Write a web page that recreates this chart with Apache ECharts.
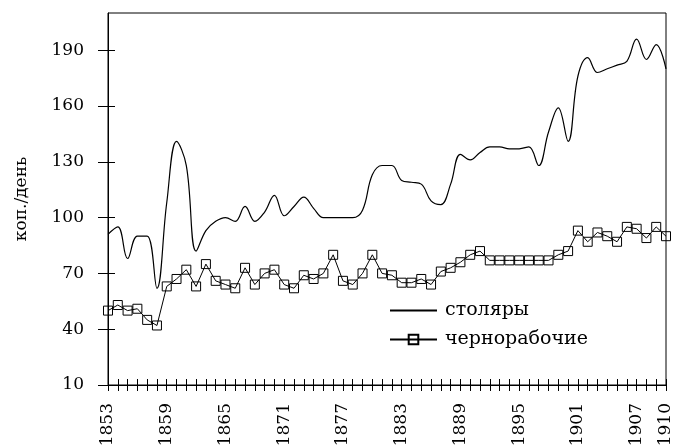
<!DOCTYPE html>
<html>
<head>
<meta charset="utf-8">
<script src="https://cdn.jsdelivr.net/npm/echarts@6/dist/echarts.min.js"></script>
<style>
  html, body { margin: 0; padding: 0; background: #fff; }
  #chart { width: 679px; height: 446px; }
</style>
</head>
<body>
<div id="chart"></div>
<script>
// годы 1853..1910
const years = [
  1853, 1854, 1855, 1856, 1857, 1858, 1859, 1860, 1861, 1862,
  1863, 1864, 1865, 1866, 1867, 1868, 1869, 1870, 1871, 1872,
  1873, 1874, 1875, 1876, 1877, 1878, 1879, 1880, 1881, 1882,
  1883, 1884, 1885, 1886, 1887, 1888, 1889, 1890, 1891, 1892,
  1893, 1894, 1895, 1896, 1897, 1898, 1899, 1900, 1901, 1902,
  1903, 1904, 1905, 1906, 1907, 1908, 1909, 1910
]
// столяры, коп./день
const stolyary = [
  91, 95, 78, 90, 90, 62, 108, 141, 128, 82,
  93, 98, 100, 98, 106, 98, 103, 112, 101, 106,
  111, 105, 100, 100, 100, 100, 104, 123, 128, 128,
  120, 119, 118, 109, 107, 118, 134, 131, 135, 138,
  138, 137, 137, 138, 128, 146, 159, 141, 176, 186,
  178, 180, 182, 184, 196, 185, 193, 180
]
// чернорабочие, коп./день
const chernorabochie = [
  50, 53, 50, 51, 45, 42, 63, 67, 72, 63,
  75, 66, 64, 62, 73, 64, 70, 72, 64, 62,
  69, 67, 70, 80, 66, 64, 70, 80, 70, 69,
  65, 65, 67, 64, 71, 73, 76, 80, 82, 77,
  77, 77, 77, 77, 77, 77, 80, 82, 93, 87,
  92, 90, 87, 95, 94, 89, 95, 90
]
const yTicks = [10, 40, 70, 100, 130, 160, 190]
const xLabels = [1853, 1859, 1865, 1871, 1877, 1883, 1889, 1895, 1901, 1907, 1910]

const font = 'DejaVu Serif'
const chart = echarts.init(document.getElementById('chart'))

const pairs = (vals) => years.map((y, i) => [y, vals[i]])

const option = {
  animation: false,
  backgroundColor: '#fff',
  grid: {
    left: 108, right: 13, top: 13, bottom: 61,
    outerBoundsMode: 'none',
    show: true, borderColor: '#000', borderWidth: 1
  },
  legend: {
    orient: 'vertical',
    left: 384, top: 296,
    itemWidth: 47, itemHeight: 12, itemGap: 10,
    textStyle: { fontFamily: font, fontSize: 19, color: '#000', padding: [0, 0, 0, 3] },
    data: [
      { name: 'столяры', itemStyle: { color: 'rgba(0,0,0,0)', borderWidth: 0 } },
      { name: 'чернорабочие' }
    ]
  },
  xAxis: [
    {
      type: 'value', min: 1853, max: 1910, interval: 1,
      axisLine: { lineStyle: { color: '#000', width: 1 } },
      axisTick: { length: 6, lineStyle: { color: '#000' } },
      axisLabel: {
        rotate: 90, margin: 18, color: '#000', fontFamily: font, fontSize: 17,
        customValues: xLabels,
        formatter: (v) => String(v)
      },
      splitLine: { show: false }
    },
    {
      type: 'value', min: 1853, max: 1910, interval: 1, position: 'bottom', offset: 0,
      axisLine: { show: false },
      axisTick: { inside: true, length: 6, lineStyle: { color: '#000' } },
      axisLabel: { show: false },
      splitLine: { show: false }
    }
  ],
  yAxis: [
    {
      type: 'value', min: 10, max: 210,
      name: 'коп./день', nameLocation: 'middle', nameGap: 78,
      nameTextStyle: { fontFamily: font, fontSize: 17, color: '#000' },
      axisLine: { show: true, lineStyle: { color: '#000', width: 1 } },
      axisTick: { show: true, length: 10, customValues: yTicks, lineStyle: { color: '#000' } },
      axisLabel: { margin: 24, color: '#000', fontFamily: font, fontSize: 17, customValues: yTicks },
      splitLine: { show: false }
    },
    {
      type: 'value', min: 10, max: 210, position: 'left', offset: 0,
      axisLine: { show: false },
      axisTick: { show: true, inside: true, length: 7, customValues: yTicks, lineStyle: { color: '#000' } },
      axisLabel: { show: false },
      splitLine: { show: false }
    }
  ],
  series: [
    {
      name: 'столяры',
      type: 'line',
      data: pairs(stolyary),
      smooth: 0.4,
      symbol: 'none',
      lineStyle: { color: '#000', width: 1.2 },
      itemStyle: { color: '#000' }
    },
    {
      name: 'чернорабочие',
      type: 'line',
      data: pairs(chernorabochie),
      symbol: 'rect',
      symbolSize: 9,
      lineStyle: { color: '#000', width: 1 },
      itemStyle: { color: 'rgba(0,0,0,0)', borderColor: '#000', borderWidth: 1 }
    }
  ]
}
chart.setOption(option)
</script>
</body>
</html>
